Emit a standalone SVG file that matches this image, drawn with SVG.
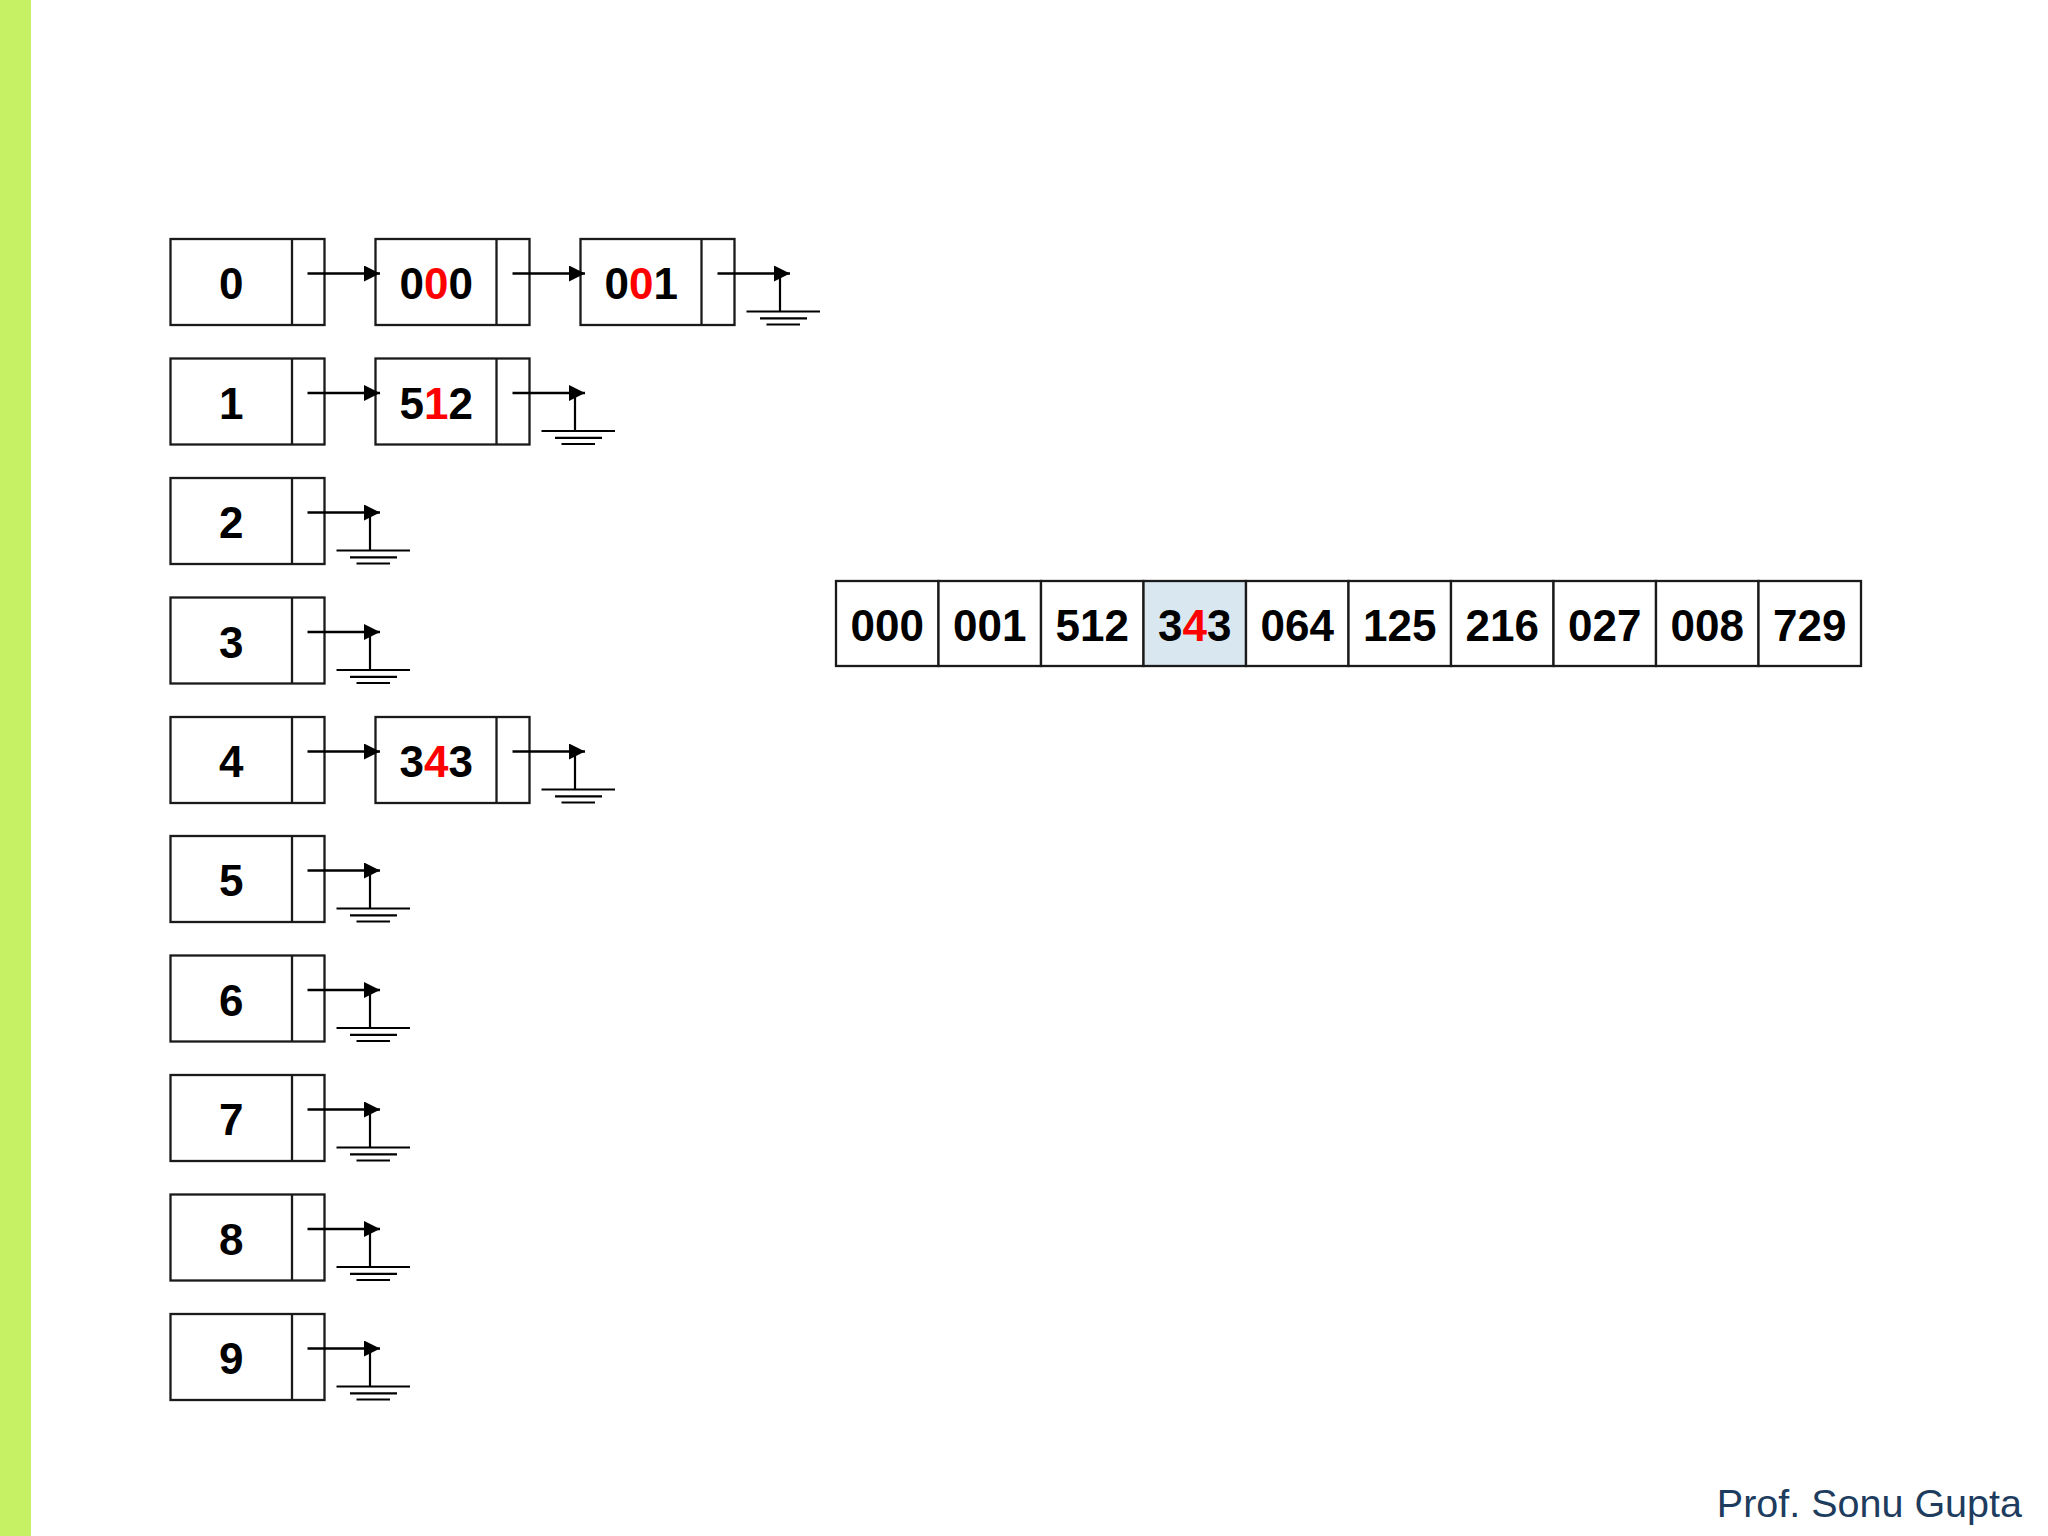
<svg xmlns="http://www.w3.org/2000/svg" width="2048" height="1536" viewBox="0 0 2048 1536">
<style>
.box{fill:#fff;stroke:#1a1a1a;stroke-width:2.3}
.div{stroke:#1a1a1a;stroke-width:2.3}
.t{font-family:"Liberation Sans",Arial,sans-serif;font-weight:bold;font-size:44px;fill:#000;text-anchor:middle}
.r{fill:#ff0000}
.ln{stroke:#000;stroke-width:2.7;fill:none}
.foot{font-family:"Liberation Sans",Arial,sans-serif;font-size:39.5px;fill:#1d3c5e;text-anchor:end}
</style>
<defs>
<marker id="ah" markerUnits="userSpaceOnUse" viewBox="0 0 16 16" refX="16" refY="8" markerWidth="16" markerHeight="16" orient="auto">
<path d="M0,0 L16,8 L0,16 z" fill="#000"/>
</marker>
<g id="gnd" stroke="#000" stroke-width="2.2" fill="none">
<line x1="-10" y1="0" x2="-10" y2="38"/>
<line x1="-43.5" y1="38" x2="30" y2="38"/>
<line x1="-30" y1="44.8" x2="17" y2="44.8"/>
<line x1="-23.5" y1="51" x2="10" y2="51"/>
</g>
</defs>
<rect x="0" y="0" width="2048" height="1536" fill="#fff"/>
<rect x="0" y="0" width="31" height="1536" fill="#c7f165"/>

<g id="bucket-0"><rect class="box" x="170.5" y="239" width="154" height="86"/><line class="div" x1="292" y1="239" x2="292" y2="325"/><text class="t" x="231.25" y="299">0</text></g>
<g id="bucket-1"><rect class="box" x="170.5" y="358.5" width="154" height="86"/><line class="div" x1="292" y1="358.5" x2="292" y2="444.5"/><text class="t" x="231.25" y="418.5">1</text></g>
<g id="bucket-2"><rect class="box" x="170.5" y="478" width="154" height="86"/><line class="div" x1="292" y1="478" x2="292" y2="564"/><text class="t" x="231.25" y="538">2</text></g>
<g id="bucket-3"><rect class="box" x="170.5" y="597.5" width="154" height="86"/><line class="div" x1="292" y1="597.5" x2="292" y2="683.5"/><text class="t" x="231.25" y="657.5">3</text></g>
<g id="bucket-4"><rect class="box" x="170.5" y="717" width="154" height="86"/><line class="div" x1="292" y1="717" x2="292" y2="803"/><text class="t" x="231.25" y="777">4</text></g>
<g id="bucket-5"><rect class="box" x="170.5" y="836" width="154" height="86"/><line class="div" x1="292" y1="836" x2="292" y2="922"/><text class="t" x="231.25" y="896">5</text></g>
<g id="bucket-6"><rect class="box" x="170.5" y="955.5" width="154" height="86"/><line class="div" x1="292" y1="955.5" x2="292" y2="1041.5"/><text class="t" x="231.25" y="1015.5">6</text></g>
<g id="bucket-7"><rect class="box" x="170.5" y="1075" width="154" height="86"/><line class="div" x1="292" y1="1075" x2="292" y2="1161"/><text class="t" x="231.25" y="1135">7</text></g>
<g id="bucket-8"><rect class="box" x="170.5" y="1194.5" width="154" height="86"/><line class="div" x1="292" y1="1194.5" x2="292" y2="1280.5"/><text class="t" x="231.25" y="1254.5">8</text></g>
<g id="bucket-9"><rect class="box" x="170.5" y="1314" width="154" height="86"/><line class="div" x1="292" y1="1314" x2="292" y2="1400"/><text class="t" x="231.25" y="1374">9</text></g>

<g id="node-000"><rect class="box" x="375.5" y="239" width="154" height="86"/><line class="div" x1="496.5" y1="239" x2="496.5" y2="325"/><text class="t" x="436.25" y="299">0<tspan class="r">0</tspan>0</text></g>
<g id="node-001"><rect class="box" x="580.5" y="239" width="154" height="86"/><line class="div" x1="701.5" y1="239" x2="701.5" y2="325"/><text class="t" x="641.25" y="299">0<tspan class="r">0</tspan>1</text></g>
<g id="node-512"><rect class="box" x="375.5" y="358.5" width="154" height="86"/><line class="div" x1="496.5" y1="358.5" x2="496.5" y2="444.5"/><text class="t" x="436.25" y="418.5">5<tspan class="r">1</tspan>2</text></g>
<g id="node-343"><rect class="box" x="375.5" y="717" width="154" height="86"/><line class="div" x1="496.5" y1="717" x2="496.5" y2="803"/><text class="t" x="436.25" y="777">3<tspan class="r">4</tspan>3</text></g>

<g id="connectors">
<line class="ln" x1="307.5" y1="273.5" x2="380" y2="273.5" marker-end="url(#ah)"/>
<line class="ln" x1="512.5" y1="273.5" x2="585" y2="273.5" marker-end="url(#ah)"/>
<line class="ln" x1="717.5" y1="273.5" x2="790" y2="273.5" marker-end="url(#ah)"/>
<use href="#gnd" x="790" y="273.5"/>
<line class="ln" x1="307.5" y1="393" x2="380" y2="393" marker-end="url(#ah)"/>
<line class="ln" x1="512.5" y1="393" x2="585" y2="393" marker-end="url(#ah)"/>
<use href="#gnd" x="585" y="393"/>
<line class="ln" x1="307.5" y1="512.5" x2="380" y2="512.5" marker-end="url(#ah)"/>
<use href="#gnd" x="380" y="512.5"/>
<line class="ln" x1="307.5" y1="632" x2="380" y2="632" marker-end="url(#ah)"/>
<use href="#gnd" x="380" y="632"/>
<line class="ln" x1="307.5" y1="751.5" x2="380" y2="751.5" marker-end="url(#ah)"/>
<line class="ln" x1="512.5" y1="751.5" x2="585" y2="751.5" marker-end="url(#ah)"/>
<use href="#gnd" x="585" y="751.5"/>
<line class="ln" x1="307.5" y1="870.5" x2="380" y2="870.5" marker-end="url(#ah)"/>
<use href="#gnd" x="380" y="870.5"/>
<line class="ln" x1="307.5" y1="990" x2="380" y2="990" marker-end="url(#ah)"/>
<use href="#gnd" x="380" y="990"/>
<line class="ln" x1="307.5" y1="1109.5" x2="380" y2="1109.5" marker-end="url(#ah)"/>
<use href="#gnd" x="380" y="1109.5"/>
<line class="ln" x1="307.5" y1="1229" x2="380" y2="1229" marker-end="url(#ah)"/>
<use href="#gnd" x="380" y="1229"/>
<line class="ln" x1="307.5" y1="1348.5" x2="380" y2="1348.5" marker-end="url(#ah)"/>
<use href="#gnd" x="380" y="1348.5"/>
</g>

<g id="array">
<rect class="box" x="836" y="581" width="102.5" height="85"/><text class="t" x="887.25" y="641">000</text>
<rect class="box" x="938.5" y="581" width="102.5" height="85"/><text class="t" x="989.75" y="641">001</text>
<rect class="box" x="1041" y="581" width="102.5" height="85"/><text class="t" x="1092.25" y="641">512</text>
<rect class="box" x="1143.5" y="581" width="102.5" height="85" style="fill:#d9e7f1"/><text class="t" x="1194.75" y="641">3<tspan class="r">4</tspan>3</text>
<rect class="box" x="1246" y="581" width="102.5" height="85"/><text class="t" x="1297.25" y="641">064</text>
<rect class="box" x="1348.5" y="581" width="102.5" height="85"/><text class="t" x="1399.75" y="641">125</text>
<rect class="box" x="1451" y="581" width="102.5" height="85"/><text class="t" x="1502.25" y="641">216</text>
<rect class="box" x="1553.5" y="581" width="102.5" height="85"/><text class="t" x="1604.75" y="641">027</text>
<rect class="box" x="1656" y="581" width="102.5" height="85"/><text class="t" x="1707.25" y="641">008</text>
<rect class="box" x="1758.5" y="581" width="102.5" height="85"/><text class="t" x="1809.75" y="641">729</text>
</g>

<text class="foot" x="2022" y="1517">Prof. Sonu Gupta</text>
</svg>
